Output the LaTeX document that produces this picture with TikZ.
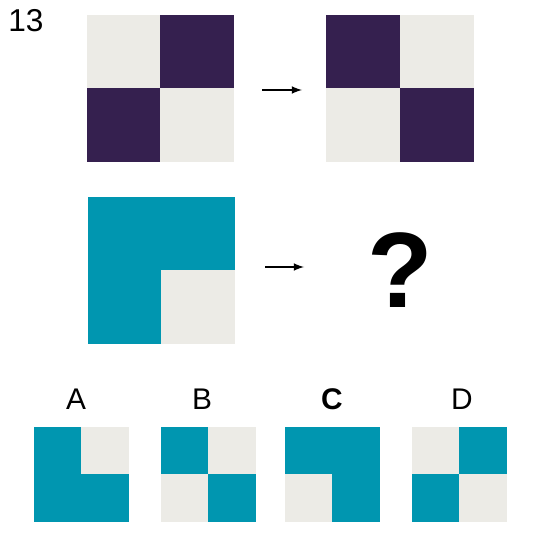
\documentclass[tikz,border=0pt]{standalone}
\usepackage{fontspec}
\setmainfont{Liberation Sans}
\usetikzlibrary{shapes}

\definecolor{plum}{HTML}{35204F}
\definecolor{teal}{HTML}{0096B0}
\definecolor{pale}{HTML}{ECEBE6}

\tikzset{
  big/.style={minimum size=1.46cm, inner sep=0, outer sep=0, fill=#1, draw=#1, line width=0.3pt},
  small/.style={minimum size=0.94cm, inner sep=0, outer sep=0, fill=#1, draw=#1, line width=0.3pt},
  label/.style={font=\fontsize{17}{20}\selectfont}
}

\begin{document}
\begin{tikzpicture}[x=0.02cm, y=-0.02cm]
        \path[use as bounding box] (0,0) rectangle (540,540);

        \node [label, font=\fontsize{18}{21}\selectfont] (num) at (26, 21) {13};

        % first pair
        \node [big=pale] (P11) at (123.5, 51.5) {};
        \node [big=plum] (P12) at (196.5, 51.5) {};
        \node [big=plum] (P21) at (123.5, 124.5) {};
        \node [big=pale] (P22) at (196.5, 124.5) {};

        \node [big=plum] (Q11) at (363, 51.5) {};
        \node [big=pale] (Q12) at (436.5, 51.5) {};
        \node [big=pale] (Q21) at (363, 124.5) {};
        \node [big=plum] (Q22) at (436.5, 124.5) {};

        \coordinate (a1) at (262, 90);
        \coordinate (b1) at (302, 90);
        \draw[->, -latex, line width=1pt] (a1) -- (b1);

        % second pair
        \node [big=teal] (R11) at (124.5, 233.5) {};
        \node [big=teal] (R12) at (197.5, 233.5) {};
        \node [big=teal] (R21) at (124.5, 306.5) {};
        \node [big=pale] (R22) at (197.5, 306.5) {};

        \coordinate (a2) at (265, 267);
        \coordinate (b2) at (304, 267);
        \draw[->, -latex, line width=1pt] (a2) -- (b2);

        \node [font=\fontsize{61}{70}\selectfont\bfseries] (ask) at (400, 270) {?};

        % answers
        \node [label] (lA) at (76, 399) {A};
        \node [label] (lB) at (202, 399) {B};
        \node [label, font=\fontsize{17}{20}\selectfont\bfseries] (lC) at (332, 399) {C};
        \node [label] (lD) at (462, 399) {D};

        \node [small=teal] (A11) at (58.25, 450.5) {};
        \node [small=pale] (A12) at (104.75, 450.5) {};
        \node [small=teal] (A21) at (58.25, 497.5) {};
        \node [small=teal] (A22) at (104.75, 497.5) {};

        \node [small=teal] (B11) at (184.5, 450.5) {};
        \node [small=pale] (B12) at (231.5, 450.5) {};
        \node [small=pale] (B21) at (184.5, 497.5) {};
        \node [small=teal] (B22) at (231.5, 497.5) {};

        \node [small=teal] (C11) at (308.5, 450.5) {};
        \node [small=teal] (C12) at (355.5, 450.5) {};
        \node [small=pale] (C21) at (308.5, 497.5) {};
        \node [small=teal] (C22) at (355.5, 497.5) {};

        \node [small=pale] (D11) at (435.5, 450.5) {};
        \node [small=teal] (D12) at (482.5, 450.5) {};
        \node [small=teal] (D21) at (435.5, 497.5) {};
        \node [small=pale] (D22) at (482.5, 497.5) {};
      \end{tikzpicture}
\end{document}
